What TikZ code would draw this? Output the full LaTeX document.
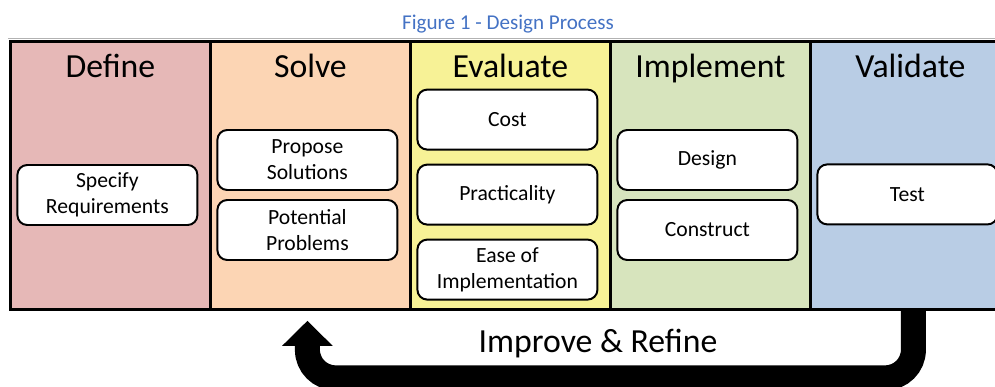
\documentclass[tikz,border=0pt]{standalone}
\usepackage{fontspec}
\setmainfont{Carlito}
\usepackage{xcolor}
\definecolor{definered}{RGB}{230,184,183}
\definecolor{solveorange}{RGB}{252,213,180}
\definecolor{evalyellow}{RGB}{247,242,150}
\definecolor{implgreen}{RGB}{215,228,189}
\definecolor{validblue}{RGB}{185,205,229}
\definecolor{captionblue}{RGB}{68,114,196}
\usepackage{tikz}
\usetikzlibrary{calc}
\usetikzlibrary{arrows.meta}
\newcommand{\widthphase}{5cm}
\newcommand{\heightphase}{6.7cm}
\newcommand{\stepcost}{1.875cm}
\newcommand{\steppair}{1.75cm}
\tikzset{
    phase/.style={anchor=north west, draw, rectangle, line width=2pt, inner sep=0pt,
        minimum width=\widthphase, minimum height=\heightphase},
    heading/.style={anchor=base, font=\fontsize{24}{28}\selectfont},
    task/.style={draw, fill=white, line width=1.4pt, rounded corners=7pt, align=center, xshift=-0.075cm,
        minimum width=4.5cm, minimum height=1.5cm, font=\fontsize{15.4}{18.4}\selectfont},
    feedback/.style={line width=0.625cm, rounded corners=0.7cm,
        -{Triangle[width=1.225cm, length=0.625cm]}}
}

\begin{document}
\begin{tikzpicture}
    \useasboundingbox (0,0) rectangle (24.875,-9.675);

    \node[text=captionblue, font=\fontsize{15}{18}\selectfont] (caption) at (12.7,-0.6) {Figure 1 - Design Process};
    \draw[black!30, thin] (0.2,-0.95) -- (24.875,-0.95);

    % phases, left to right
    \path
        (0.225,-1) node[phase, fill=definered] (define) {}
        ++(0:\widthphase) node[phase, fill=solveorange] (solve) {}
        ++(0:\widthphase) node[phase, fill=evalyellow] (evaluate) {}
        ++(0:\widthphase) node[phase, fill=implgreen] (implement) {}
        ++(0:\widthphase) node[phase, fill=validblue] (validate) {};

    \foreach \phase/\heading in {define/Define, solve/Solve, evaluate/Evaluate, implement/Implement, validate/Validate}
        \node[heading] (\phase-title) at ($(\phase.north)+(0,-0.95)$) {\heading};

    \path (define.north)
        ++(0,-3.875) node[task] (specify) {Specify\\Requirements};

    \path (solve.north)
        ++(0,-3) node[task] (propose) {Propose\\Solutions}
        ++(0,-\steppair) node[task] (problems) {Potential\\Problems};

    \path (evaluate.north)
        ++(0,-1.99) node[task] (cost) {Cost}
        ++(0,-\stepcost) node[task] (practicality) {Practicality}
        ++(0,-\stepcost) node[task] (ease) {Ease of\\Implementation};

    \path (implement.north)
        ++(0,-3) node[task] (design) {Design}
        ++(0,-\steppair) node[task] (construct) {Construct};

    \path (validate.north)
        ++(0,-3.86) node[task] (test) {Test};

    % loop back from validation to solving
    \draw[feedback]
        ($(validate.south)+(0.075,0)$) -- ++(0,-1.675) -| ($(solve.south)+(-0.075,-0.25)$);
    \node[heading] (improve) at (14.95,-8.8) {Improve \& Refine};
\end{tikzpicture}
\end{document}
